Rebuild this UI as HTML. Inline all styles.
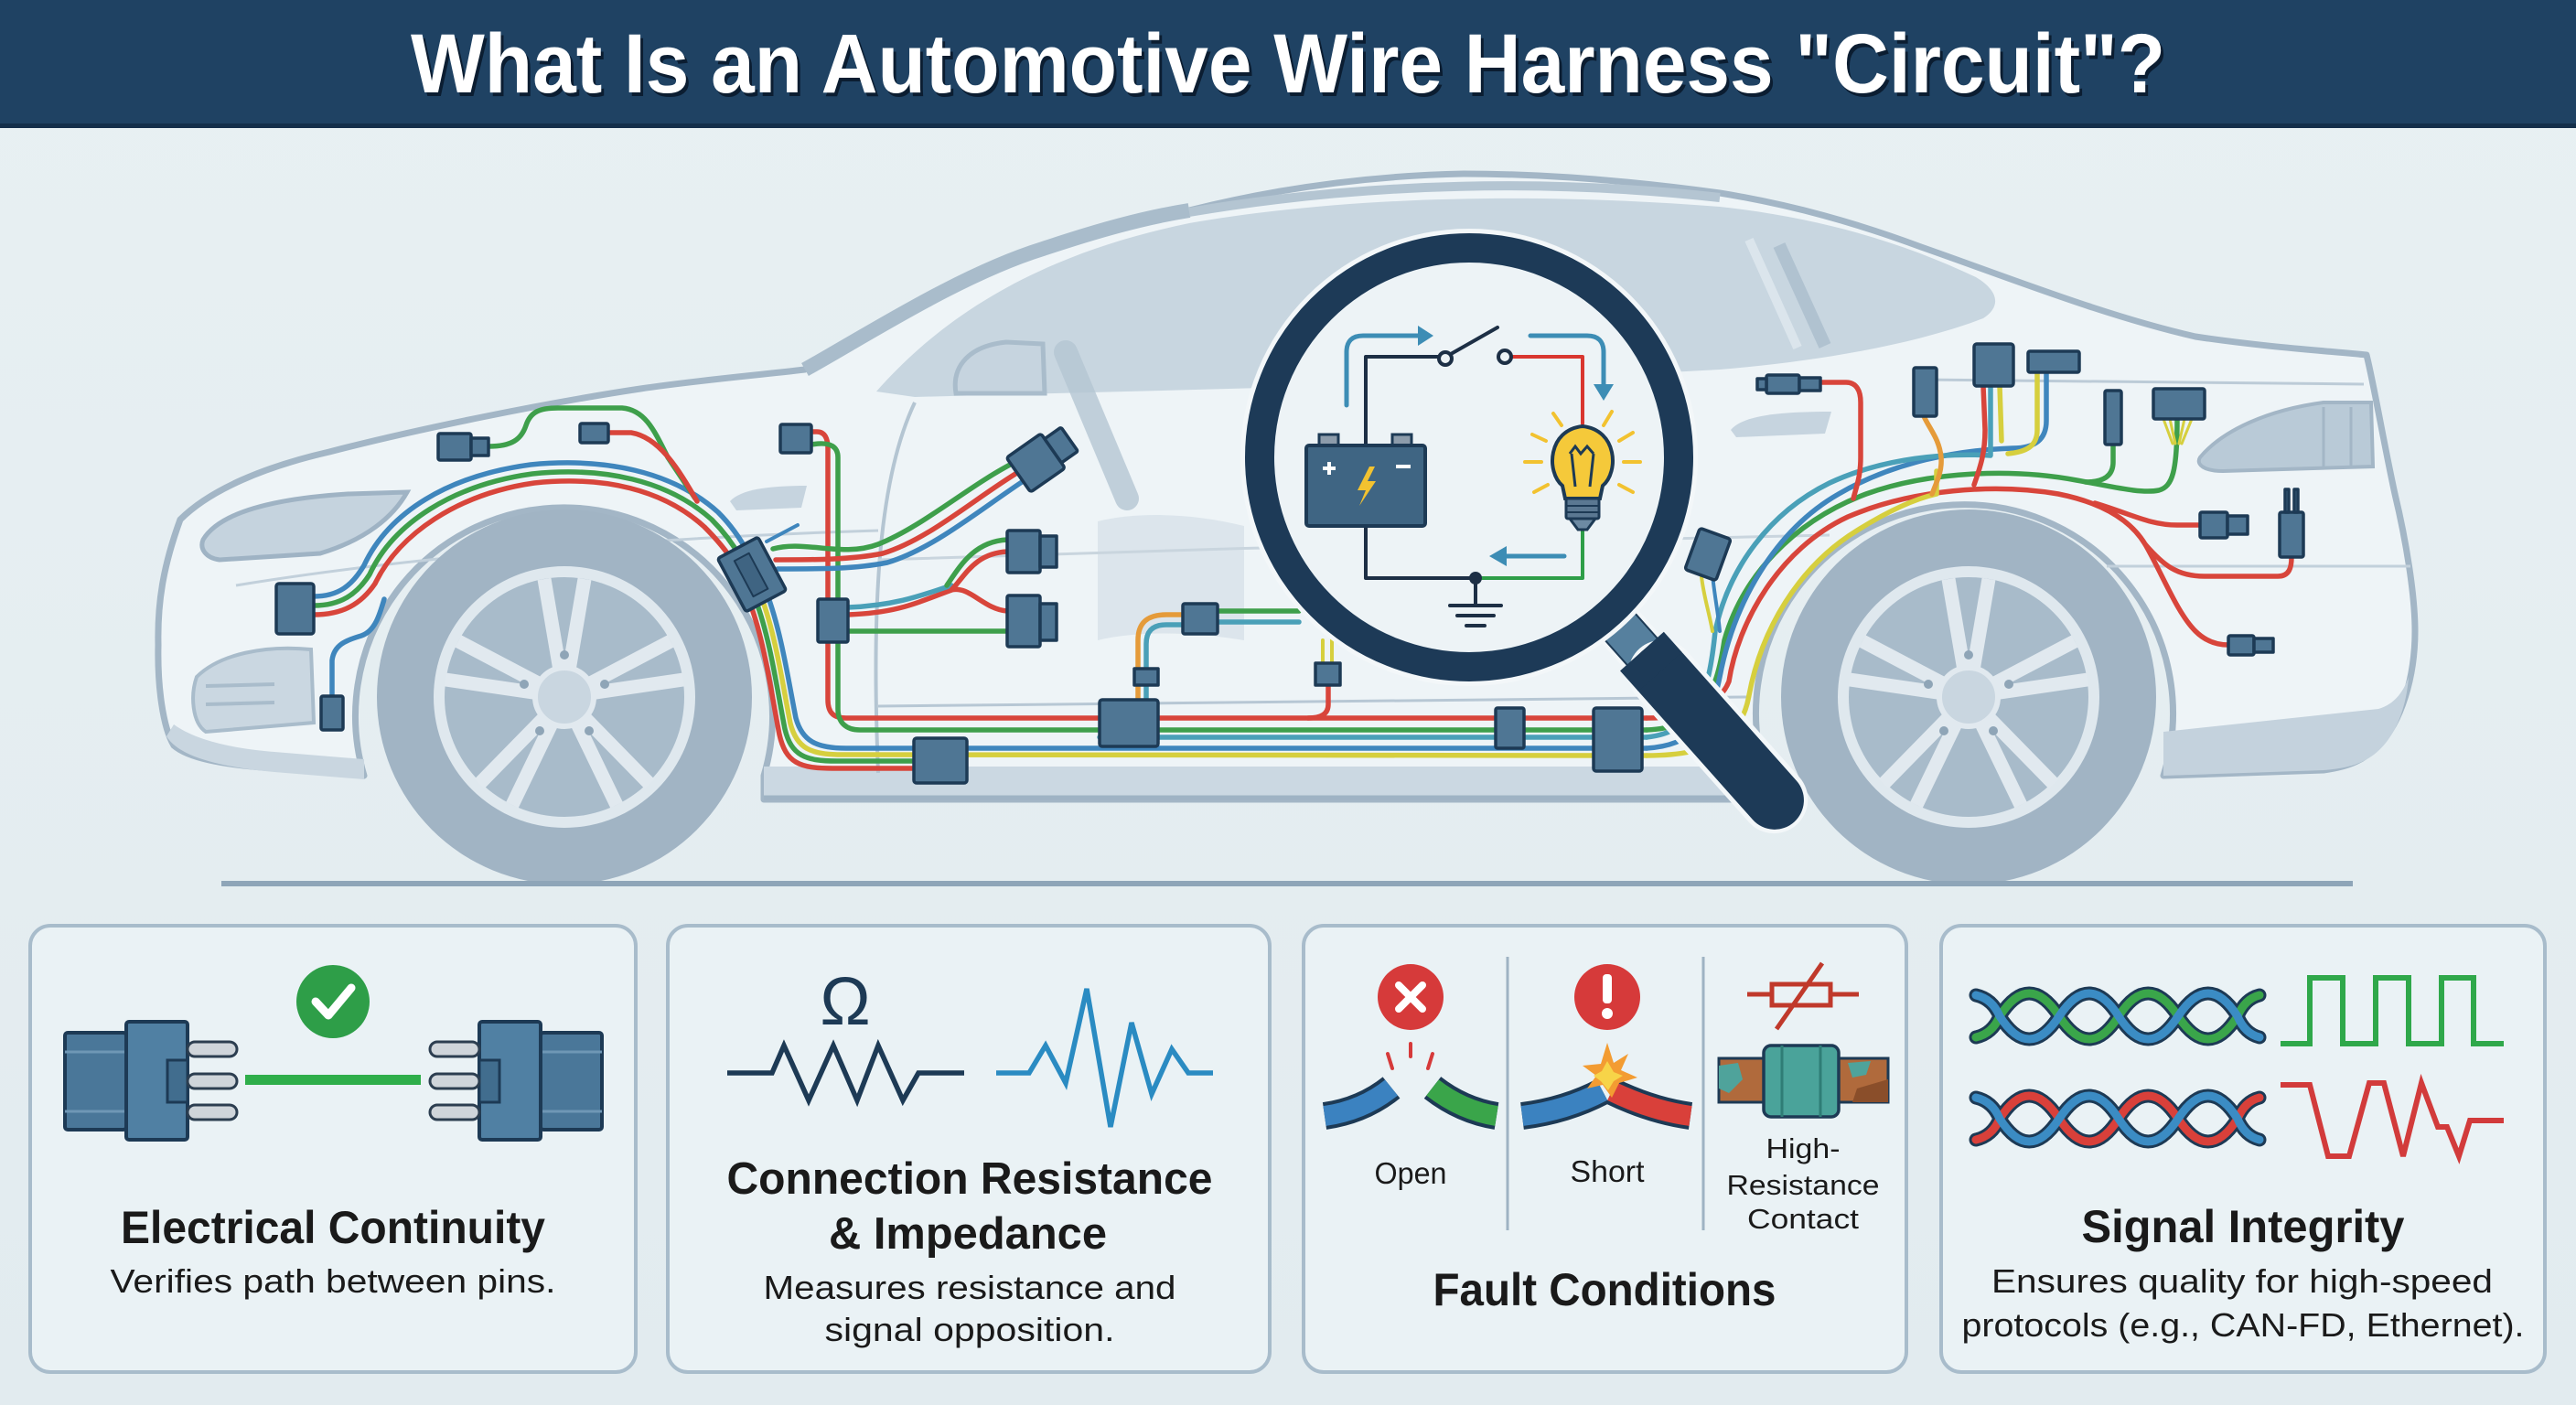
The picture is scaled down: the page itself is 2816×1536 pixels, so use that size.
<!DOCTYPE html>
<html>
<head>
<meta charset="utf-8">
<style>
html,body{margin:0;padding:0;background:#e4edf1;}
svg{display:block;}
text{font-family:"Liberation Sans",Arial,sans-serif;}
</style>
</head>
<body>
<svg width="2816" height="1536" viewBox="0 0 2816 1536" xmlns="http://www.w3.org/2000/svg">
<defs>
<linearGradient id="bg" x1="0" y1="0" x2="0" y2="1">
<stop offset="0" stop-color="#e8f0f3"/><stop offset="1" stop-color="#e2ebef"/>
</linearGradient>
</defs>
<rect x="0" y="0" width="2816" height="1536" fill="url(#bg)"/>

<!-- Title bar -->
<rect x="0" y="0" width="2816" height="140" fill="#1f4263"/>
<rect x="0" y="135" width="2816" height="5" fill="#142f4a"/>
<text x="1411" y="105" text-anchor="middle" font-size="92" font-weight="bold" fill="#0b1d31" textLength="1918" lengthAdjust="spacingAndGlyphs">What Is an Automotive Wire Harness "Circuit"?</text>
<text x="1408" y="101" text-anchor="middle" font-size="92" font-weight="bold" fill="#ffffff" textLength="1918" lengthAdjust="spacingAndGlyphs">What Is an Automotive Wire Harness "Circuit"?</text>

<!-- ===== CAR ===== -->
<g id="car">
<path d="M398,848 L300,840 C240,836 205,828 190,815 C178,795 172,750 173,705 C172,660 178,620 197,568 C230,535 290,510 360,494 C460,468 600,440 700,425 C760,416 830,410 880,404 C950,365 1050,300 1140,272 C1200,252 1250,238 1300,230 C1400,205 1500,192 1600,190 C1700,190 1800,200 1880,211 C1960,224 2030,244 2100,270 C2200,305 2300,345 2400,368 C2480,380 2550,384 2587,388 C2595,420 2605,480 2618,540 C2630,590 2640,650 2640,690 C2640,740 2625,790 2600,815 C2585,830 2570,838 2540,842 L2365,848 A228,228 0 1 0 1930,848 L1930,874 L835,874 L835,848 A228,228 0 1 0 398,848 Z" fill="#eef4f7" stroke="#a3b6c6" stroke-width="7" stroke-linejoin="round"/>
<path d="M835,838 L1930,838 L1930,874 L835,874 Z" fill="#cbd8e2"/>
<path d="M835,872 L1930,872" stroke="#9fb3c4" stroke-width="5"/>
<path d="M960,772 L1910,762" stroke="#b7c7d4" stroke-width="3" fill="none"/>
<path d="M182,805 C195,826 235,838 300,844 L398,852 L398,830 L300,822 C250,818 212,808 190,792 Z" fill="#c9d6e0"/>
<path d="M2365,800 L2600,775 C2618,770 2628,755 2633,740 C2630,780 2615,810 2595,825 C2580,836 2565,840 2540,842 L2365,848 Z" fill="#c4d2dd"/>
<path d="M958,428 C1040,335 1150,275 1300,244 C1450,218 1650,208 1880,226 C1990,238 2080,265 2160,303 C2185,318 2188,335 2168,348 C2100,374 2000,394 1880,404 C1600,420 1300,426 1000,434 Z" fill="#c8d6e0"/>
<path d="M880,404 C950,365 1050,300 1140,272 C1200,252 1250,238 1300,230" stroke="#a9bccb" stroke-width="16" fill="none"/>
<path d="M1300,232 C1500,198 1700,196 1880,216" stroke="#b4c5d2" stroke-width="10" fill="none"/>
<path d="M1912,262 L1965,380" stroke="#dbe5ec" stroke-width="10"/>
<path d="M1945,268 L1995,378" stroke="#b0c2d0" stroke-width="14"/>
<path d="M1045,430 C1040,400 1060,378 1100,374 L1140,376 L1142,430 Z" fill="#c6d4df" stroke="#a9bccb" stroke-width="5"/>
<path d="M1165,385 L1232,545" stroke="#b5c6d3" stroke-width="26" stroke-linecap="round" opacity="0.8"/>
<path d="M1200,570 C1240,560 1300,560 1360,575 L1360,700 C1300,690 1240,690 1200,700 Z" fill="#d7e1e9" opacity="0.8"/>
<path d="M258,640 C500,600 800,585 960,580" stroke="#c2d0db" stroke-width="3" fill="none"/>
<path d="M1000,440 C962,520 952,650 960,845" stroke="#b4c5d2" stroke-width="4" fill="none"/>
<path d="M2099,415 C2300,418 2450,420 2584,420" stroke="#bccbd7" stroke-width="3" fill="none"/>
<path d="M2303,619 L2635,619" stroke="#c2d0db" stroke-width="3" fill="none"/>
<path d="M960,612 C1300,600 1700,590 2000,585" stroke="#c9d5de" stroke-width="3" fill="none"/>
<path d="M798,548 C810,535 840,531 882,531 L876,555 L805,558 Z" fill="#c6d4df"/>
<path d="M1892,470 C1905,455 1940,450 2002,450 L1995,474 L1898,478 Z" fill="#c6d4df"/>
<path d="M222,590 C240,560 300,545 380,540 L445,538 C430,565 400,590 350,605 L240,612 C225,610 218,600 222,590 Z" fill="#c5d3de" stroke="#9fb3c4" stroke-width="5"/>
<path d="M215,740 C240,715 290,705 340,710 L343,790 L225,800 C210,790 208,760 215,740 Z" fill="#cad7e1" stroke="#a9bccb" stroke-width="4"/>
<path d="M225,750 L300,748 M225,770 L300,768" stroke="#a9bccb" stroke-width="4"/>
<path d="M2405,500 C2430,470 2480,448 2540,440 L2592,440 L2594,510 L2430,515 C2410,515 2400,508 2405,500 Z" fill="#b9cad7" stroke="#a3b6c6" stroke-width="4"/>
<path d="M2540,445 L2540,512 M2570,445 L2570,512" stroke="#a3b6c6" stroke-width="3"/>
</g>

<!-- Wheels -->
<g transform="translate(617,762)">
<circle r="205" fill="#a1b4c4"/>
<circle r="143" fill="#dfe8ee"/>
<circle r="131" fill="#a8bbca"/>
<g stroke="#e1e9ef" stroke-width="15">
<line x1="0" y1="0" x2="-22" y2="-129"/><line x1="0" y1="0" x2="22" y2="-129"/>
<line x1="0" y1="0" x2="116" y2="-61"/><line x1="0" y1="0" x2="130" y2="-19"/>
<line x1="0" y1="0" x2="93" y2="95"/><line x1="0" y1="0" x2="57" y2="118"/>
<line x1="0" y1="0" x2="-57" y2="118"/><line x1="0" y1="0" x2="-93" y2="95"/>
<line x1="0" y1="0" x2="-130" y2="-19"/><line x1="0" y1="0" x2="-116" y2="-61"/>
</g>
<circle r="32" fill="#c9d6e0" stroke="#e1e9ef" stroke-width="6"/>
<g fill="#8fa5b7"><circle cx="0" cy="-46" r="5"/><circle cx="44" cy="-14" r="5"/><circle cx="27" cy="37" r="5"/><circle cx="-27" cy="37" r="5"/><circle cx="-44" cy="-14" r="5"/></g>
</g>
<g transform="translate(2152,762)">
<circle r="205" fill="#a1b4c4"/>
<circle r="143" fill="#dfe8ee"/>
<circle r="131" fill="#a8bbca"/>
<g stroke="#e1e9ef" stroke-width="15">
<line x1="0" y1="0" x2="-22" y2="-129"/><line x1="0" y1="0" x2="22" y2="-129"/>
<line x1="0" y1="0" x2="116" y2="-61"/><line x1="0" y1="0" x2="130" y2="-19"/>
<line x1="0" y1="0" x2="93" y2="95"/><line x1="0" y1="0" x2="57" y2="118"/>
<line x1="0" y1="0" x2="-57" y2="118"/><line x1="0" y1="0" x2="-93" y2="95"/>
<line x1="0" y1="0" x2="-130" y2="-19"/><line x1="0" y1="0" x2="-116" y2="-61"/>
</g>
<circle r="32" fill="#c9d6e0" stroke="#e1e9ef" stroke-width="6"/>
<g fill="#8fa5b7"><circle cx="0" cy="-46" r="5"/><circle cx="44" cy="-14" r="5"/><circle cx="27" cy="37" r="5"/><circle cx="-27" cy="37" r="5"/><circle cx="-44" cy="-14" r="5"/></g>
</g>
<line x1="242" y1="966" x2="2572" y2="966" stroke="#8ea5b8" stroke-width="6"/>

<!-- ===== WIRES ===== -->
<g fill="none" stroke-width="5.5" stroke-linecap="round" stroke-linejoin="round">
<path d="M343,652 C370,652 385,640 398,618 C425,560 490,520 580,508 C660,500 735,515 785,560 C800,575 810,590 818,605" stroke="#3f86bd"/>
<path d="M343,662 C372,662 390,650 404,628 C430,572 495,530 582,518 C660,510 730,525 778,568 C792,582 802,596 810,610" stroke="#3e9f4b"/>
<path d="M343,672 C375,672 395,660 410,638 C436,584 500,540 584,528 C660,520 725,535 770,576 C784,590 794,602 802,615" stroke="#d8453b"/>
<path d="M534,488 C560,488 570,480 575,465 C580,450 590,446 610,446 L680,446 C705,448 715,470 730,500 L760,545" stroke="#3e9f4b"/>
<path d="M665,473 L690,473 C720,478 740,510 762,548" stroke="#d8453b"/>
<path d="M363,761 L363,722 C365,705 378,700 395,695 C410,690 415,672 420,655" stroke="#3f86bd"/>
<path d="M838,648 C854,690 862,745 870,785 C877,810 892,818 925,818 L1800,818" stroke="#3f86bd"/>
<path d="M832,652 C848,694 856,751 864,791 C871,818 886,825 920,825 L1800,826" stroke="#d6cf3e"/>
<path d="M826,656 C842,698 850,757 858,797 C865,826 880,832 915,832 L1000,832" stroke="#3e9f4b"/>
<path d="M820,660 C836,702 844,763 852,803 C859,834 874,840 910,840 L1000,840" stroke="#d8453b"/>
<path d="M887,472 L893,472 C902,472 905,480 905,490 L905,765 C905,780 912,785 925,785 L1800,785" stroke="#d8453b"/>
<path d="M887,486 C910,482 916,490 916,500 L916,775 C916,790 925,798 940,798 L1800,798" stroke="#3e9f4b"/>
<path d="M1202,806 L1800,806" stroke="#4aa0b8"/>
<path d="M845,600 C880,590 920,610 960,595 C1010,575 1060,530 1110,505" stroke="#3e9f4b"/>
<path d="M848,612 C890,612 930,612 965,605 C1015,590 1065,545 1115,515" stroke="#d8453b"/>
<path d="M850,622 C900,622 935,622 970,615 C1020,600 1070,558 1120,525" stroke="#3f86bd"/>
<path d="M838,592 L872,574" stroke="#3f86bd" stroke-width="4"/>
<path d="M927,690 L1101,690" stroke="#3e9f4b"/>
<path d="M927,672 C980,670 1000,660 1040,645 C1060,640 1075,666 1101,668" stroke="#d8453b"/>
<path d="M927,664 C980,662 1010,650 1040,640" stroke="#4aa0b8"/>
<path d="M1040,645 C1055,630 1065,605 1101,603" stroke="#d8453b"/>
<path d="M1035,640 C1050,618 1065,592 1101,590" stroke="#3e9f4b"/>
<path d="M1244,765 L1244,700 C1244,680 1255,672 1275,672 L1293,672" stroke="#e59b3a"/>
<path d="M1253,765 L1253,704 C1253,690 1260,683 1275,683 L1293,683" stroke="#4aa0b8"/>
<path d="M1331,668 L1420,668" stroke="#3e9f4b"/>
<path d="M1331,680 L1420,680" stroke="#4aa0b8"/>
<path d="M1452,749 L1452,770 C1452,780 1445,785 1430,785" stroke="#d8453b"/>
<path d="M1446,700 L1446,725 M1456,700 L1456,725" stroke="#d6cf3e" stroke-width="4"/>
<path d="M1800,785 C1850,785 1880,770 1890,745 C1900,680 1945,600 2020,565 C2090,535 2180,528 2250,540 C2300,550 2330,570 2345,595 C2365,630 2380,670 2400,690 C2412,702 2425,705 2436,705" stroke="#d8453b"/>
<path d="M1800,798 C1860,796 1876,760 1885,700 C1905,630 1960,570 2040,540 C2110,515 2200,512 2270,525 C2310,532 2340,540 2360,536 C2375,532 2380,515 2380,458" stroke="#3e9f4b"/>
<path d="M1800,818 C1850,815 1870,790 1880,740 C1895,660 1940,580 2010,540 C2070,505 2140,492 2200,490 C2225,490 2237,480 2237,460 L2237,407" stroke="#3f86bd"/>
<path d="M1800,826 C1880,826 1905,800 1912,760 C1925,690 1965,620 2030,580 C2065,558 2095,545 2117,540 L2117,515" stroke="#d6cf3e"/>
<path d="M1800,806 C1855,800 1868,760 1875,690 C1890,620 1935,560 2000,528 C2060,500 2130,495 2176,498 L2176,422" stroke="#4aa0b8"/>
<path d="M2227,407 L2227,470 C2227,488 2215,494 2195,496" stroke="#d6cf3e"/>
<path d="M2290,550 C2330,562 2350,574 2380,574 L2405,574" stroke="#d8453b"/>
<path d="M2345,595 C2365,618 2380,630 2410,630 L2490,630 C2503,630 2505,620 2505,609" stroke="#d8453b"/>
<path d="M2310,486 L2310,505 C2310,520 2300,527 2280,527" stroke="#3e9f4b"/>
<path d="M1990,418 L2018,418 C2030,418 2034,428 2034,440 L2034,500 C2034,520 2030,530 2026,545" stroke="#d8453b"/>
<path d="M2103,455 C2110,470 2120,480 2122,500 C2123,515 2118,525 2112,540" stroke="#e59b3a"/>
<path d="M2168,422 L2170,470 C2170,495 2165,510 2158,530" stroke="#d8453b"/>
<path d="M2186,422 L2188,482" stroke="#d6cf3e"/>
<path d="M2365,458 L2375,485 M2372,458 L2378,485 M2388,458 L2382,485 M2396,458 L2385,485" stroke="#d6cf3e" stroke-width="3"/>
<path d="M1860,630 C1862,650 1868,668 1872,690" stroke="#d6cf3e" stroke-width="4"/>
<path d="M1872,628 C1874,650 1878,668 1880,690" stroke="#3f86bd" stroke-width="4"/>
</g>

<!-- connectors -->
<g fill="#4f7694" stroke="#1d3a55" stroke-width="3.5" stroke-linejoin="round">
<rect x="302" y="638" width="41" height="55" rx="3"/>
<rect x="479" y="474" width="36" height="29" rx="2"/><rect x="515" y="479" width="19" height="19"/>
<rect x="634" y="463" width="31" height="21" rx="2"/>
<rect x="351" y="761" width="24" height="37" rx="2"/>
<g transform="translate(822,628) rotate(-28)"><rect x="-25" y="-33" width="50" height="66" rx="3"/><rect x="-10" y="-22" width="18" height="44" fill="#3f6482" stroke-width="2"/></g>
<rect x="853" y="464" width="34" height="31" rx="2"/>
<rect x="894" y="655" width="33" height="47" rx="2"/>
<rect x="1101" y="580" width="36" height="46" rx="2"/><rect x="1137" y="586" width="18" height="34"/>
<rect x="1101" y="651" width="36" height="56" rx="2"/><rect x="1137" y="660" width="18" height="40"/>
<g transform="translate(1138,502) rotate(-35)"><rect x="-30" y="-23" width="46" height="46" rx="3"/><rect x="16" y="-16" width="22" height="32" rx="2"/></g>
<rect x="999" y="807" width="58" height="49" rx="3"/>
<rect x="1202" y="765" width="64" height="51" rx="3"/>
<rect x="1240" y="731" width="26" height="18"/>
<rect x="1293" y="660" width="38" height="33" rx="2"/>
<rect x="1438" y="725" width="27" height="24"/>
<rect x="1635" y="774" width="31" height="44" rx="2"/>
<rect x="1742" y="774" width="53" height="69" rx="3"/>
<rect x="1931" y="410" width="36" height="20" rx="2"/><rect x="1967" y="413" width="23" height="14"/><rect x="1921" y="414" width="10" height="12"/>
<rect x="2092" y="402" width="25" height="53" rx="2"/>
<rect x="2158" y="376" width="43" height="46" rx="3"/>
<rect x="2217" y="384" width="56" height="23" rx="2"/>
<rect x="2301" y="427" width="18" height="59" rx="2"/>
<rect x="2354" y="425" width="56" height="33" rx="2"/>
<rect x="2405" y="560" width="30" height="28" rx="2"/><rect x="2435" y="564" width="22" height="20"/>
<rect x="2492" y="560" width="26" height="49" rx="2"/><rect x="2498" y="535" width="4" height="25"/><rect x="2508" y="535" width="4" height="25"/>
<rect x="2436" y="695" width="28" height="21" rx="2"/><rect x="2464" y="698" width="21" height="15"/>
<g transform="translate(1867,606) rotate(20)"><rect x="-18" y="-24" width="36" height="48" rx="3"/></g>
</g>

<!-- ===== MAGNIFIER ===== -->
<g transform="translate(1606,500) rotate(48.3)">
<rect x="236" y="-27" width="60" height="54" fill="#f3f7f9"/>
<rect x="238" y="-22" width="52" height="44" fill="#56809e" stroke="#1d3a55" stroke-width="2"/>
<rect x="280" y="-37" width="258" height="74" rx="37" fill="#f3f7f9"/>
<rect x="284" y="-32" width="250" height="64" rx="32" fill="#1d3a57"/>
<rect x="284" y="-32" width="30" height="64" fill="#1d3a57"/>
</g>
<circle cx="1606" cy="500" r="250" fill="#f3f7f9"/>
<circle cx="1606" cy="500" r="215" fill="#edf3f6"/>
<circle cx="1606" cy="500" r="229" fill="none" stroke="#1d3a57" stroke-width="32"/>

<!-- circuit -->
<g fill="none" stroke-linecap="round" stroke-linejoin="round">
<path d="M1472,443 V385 Q1472,367 1490,367 H1552" stroke="#3d8db5" stroke-width="5"/>
<path d="M1673,367 H1735 Q1753,367 1753,385 V420" stroke="#3d8db5" stroke-width="5"/>
<path d="M1710,608 H1645" stroke="#3d8db5" stroke-width="5"/>
<path d="M1493,487 V390 H1573" stroke="#1d2f45" stroke-width="4"/>
<path d="M1586,387 L1637,358" stroke="#1d2f45" stroke-width="4"/>
<path d="M1652,390 H1730 V463" stroke="#d9362f" stroke-width="4"/>
<path d="M1730,578 V632 H1620" stroke="#2e9e48" stroke-width="4"/>
<path d="M1613,632 H1493 V575" stroke="#1d2f45" stroke-width="4"/>
<path d="M1613,632 V662 M1585,662 H1641 M1593,673 H1633 M1603,684 H1623" stroke="#1d2f45" stroke-width="4"/>
<g stroke="#f2c230" stroke-width="4">
<path d="M1698,452 L1707,465 M1762,450 L1753,465 M1675,475 L1690,482 M1785,473 L1770,482 M1667,505 L1685,505 M1775,505 L1793,505 M1677,538 L1692,530 M1770,530 L1785,538"/>
</g>
</g>
<g fill="#3d8db5">
<polygon points="1550,356 1567,367 1550,378"/>
<polygon points="1742,420 1753,438 1764,420"/>
<polygon points="1647,597 1628,608 1647,619"/>
</g>
<circle cx="1580" cy="392" r="7" fill="#edf3f6" stroke="#1d2f45" stroke-width="4"/>
<circle cx="1645" cy="390" r="7" fill="#edf3f6" stroke="#1d2f45" stroke-width="4"/>
<circle cx="1613" cy="632" r="7" fill="#1d2f45"/>
<rect x="1442" y="475" width="21" height="13" fill="#8d9cab" stroke="#1d3a55" stroke-width="3"/>
<rect x="1522" y="475" width="21" height="13" fill="#8d9cab" stroke="#1d3a55" stroke-width="3"/>
<rect x="1428" y="487" width="130" height="88" rx="3" fill="#3f6583" stroke="#1d3a55" stroke-width="4"/>
<path d="M1446,512 H1460 M1453,505 V519 M1526,510 H1542" stroke="#ffffff" stroke-width="4" fill="none"/>
<polygon points="1497,510 1484,536 1493,536 1486,553 1504,526 1495,526 1503,510" fill="#f2c230"/>
<path d="M1708,531 C1690,516 1692,470 1730,466 C1768,470 1770,516 1752,531 L1749,545 H1711 Z" fill="#f5c93a" stroke="#1d3a55" stroke-width="4"/>
<path d="M1716,496 L1722,488 L1728,496 L1735,488 L1742,496 M1718,496 L1722,532 M1742,496 L1738,532" stroke="#1d3a55" stroke-width="3" fill="none"/>
<rect x="1712" y="545" width="36" height="22" rx="2" fill="#5b7892" stroke="#1d3a55" stroke-width="3"/>
<path d="M1712,553 H1748 M1712,560 H1748" stroke="#1d3a55" stroke-width="2"/>
<polygon points="1716,567 1744,567 1735,579 1725,579" fill="#6d8aa3" stroke="#1d3a55" stroke-width="3"/>

<!-- ===== CARDS ===== -->
<g fill="#eaf2f5" stroke="#a8bccb" stroke-width="4">
<rect x="33" y="1012" width="662" height="488" rx="22"/>
<rect x="730" y="1012" width="658" height="488" rx="22"/>
<rect x="1425" y="1012" width="659" height="488" rx="22"/>
<rect x="2122" y="1012" width="660" height="488" rx="22"/>
</g>

<!-- Card 1 -->
<circle cx="364" cy="1095" r="40" fill="#2e9e48"/>
<path d="M345,1095 L359,1110 L384,1080" stroke="#ffffff" stroke-width="9" fill="none" stroke-linecap="round" stroke-linejoin="round"/>
<g id="conn1">
<rect x="71" y="1129" width="67" height="106" rx="3" fill="#4a7799" stroke="#1d3a55" stroke-width="4"/>
<path d="M71,1150 H138 M71,1215 H138" stroke="#6f97b5" stroke-width="3"/>
<rect x="138" y="1117" width="67" height="129" rx="3" fill="#5080a3" stroke="#1d3a55" stroke-width="4"/>
<rect x="183" y="1159" width="22" height="46" fill="#416d8e" stroke="#1d3a55" stroke-width="3"/>
<rect x="205" y="1139" width="54" height="16" rx="8" fill="#cfd5da" stroke="#2c3e50" stroke-width="3"/>
<rect x="205" y="1174" width="54" height="16" rx="8" fill="#cfd5da" stroke="#2c3e50" stroke-width="3"/>
<rect x="205" y="1208" width="54" height="16" rx="8" fill="#cfd5da" stroke="#2c3e50" stroke-width="3"/>
</g>
<use href="#conn1" transform="translate(729,0) scale(-1,1)"/>
<rect x="268" y="1175" width="192" height="11" fill="#2fae4a"/>
<text x="364" y="1359" text-anchor="middle" font-size="50" font-weight="bold" fill="#1a1a1a" textLength="464" lengthAdjust="spacingAndGlyphs">Electrical Continuity</text>
<text x="364" y="1413" text-anchor="middle" font-size="36" fill="#1a1a1a" textLength="487" lengthAdjust="spacingAndGlyphs">Verifies path between pins.</text>

<!-- Card 2 -->
<text x="924" y="1120" text-anchor="middle" font-size="74" fill="#1d3a55">Ω</text>
<path d="M795,1173 H844 L857,1143 L884,1203 L911,1143 L937,1203 L960,1143 L987,1203 L1004,1173 H1054" stroke="#1d3a55" stroke-width="5.5" fill="none"/>
<path d="M1089,1173 H1125 L1143,1143 L1165,1184 L1188,1081 L1214,1232 L1237,1118 L1259,1196 L1281,1147 L1299,1173 H1326" stroke="#2a8bc2" stroke-width="5.5" fill="none"/>
<text x="1060" y="1305" text-anchor="middle" font-size="49" font-weight="bold" fill="#1a1a1a" textLength="531" lengthAdjust="spacingAndGlyphs">Connection Resistance</text>
<text x="1058" y="1365" text-anchor="middle" font-size="49" font-weight="bold" fill="#1a1a1a" textLength="304" lengthAdjust="spacingAndGlyphs">&amp; Impedance</text>
<text x="1060" y="1420" text-anchor="middle" font-size="36" fill="#1a1a1a" textLength="451" lengthAdjust="spacingAndGlyphs">Measures resistance and</text>
<text x="1060" y="1466" text-anchor="middle" font-size="36" fill="#1a1a1a" textLength="317" lengthAdjust="spacingAndGlyphs">signal opposition.</text>

<!-- Card 3 -->
<path d="M1648,1046 V1345 M1862,1046 V1345" stroke="#9fb3c3" stroke-width="3"/>
<circle cx="1542" cy="1090" r="36" fill="#d63a3a"/>
<path d="M1529,1077 L1555,1103 M1555,1077 L1529,1103" stroke="#ffffff" stroke-width="8" stroke-linecap="round"/>
<circle cx="1757" cy="1090" r="36" fill="#d63a3a"/>
<rect x="1752" y="1065" width="10" height="32" rx="4" fill="#ffffff"/>
<circle cx="1757" cy="1108" r="6" fill="#ffffff"/>
<path d="M1910,1087 H1937 M2001,1087 H2032" stroke="#c0392b" stroke-width="5"/>
<rect x="1937" y="1076" width="64" height="23" fill="none" stroke="#c0392b" stroke-width="5"/>
<path d="M1942,1125 L1992,1053" stroke="#c0392b" stroke-width="5"/>
<path d="M1448,1220 Q1490,1214 1521,1189" stroke="#1d3a55" stroke-width="30" fill="none"/>
<path d="M1448,1220 Q1490,1214 1521,1189" stroke="#3b82c0" stroke-width="22" fill="none"/>
<path d="M1566,1189 Q1598,1214 1636,1220" stroke="#1d3a55" stroke-width="30" fill="none"/>
<path d="M1566,1189 Q1598,1214 1636,1220" stroke="#3aa54a" stroke-width="22" fill="none"/>
<path d="M1517,1152 L1522,1168 M1542,1141 L1542,1155 M1566,1152 L1561,1168" stroke="#d63a3a" stroke-width="4" stroke-linecap="round"/>
<path d="M1664,1220 Q1712,1214 1752,1193" stroke="#1d3a55" stroke-width="30" fill="none"/>
<path d="M1664,1220 Q1712,1214 1752,1193" stroke="#3b82c0" stroke-width="22" fill="none"/>
<path d="M1762,1193 Q1805,1214 1848,1220" stroke="#1d3a55" stroke-width="30" fill="none"/>
<path d="M1762,1193 Q1805,1214 1848,1220" stroke="#d9403a" stroke-width="22" fill="none"/>
<polygon points="1757,1140 1764,1162 1780,1152 1772,1170 1790,1178 1770,1184 1762,1200 1752,1186 1735,1190 1745,1176 1730,1165 1750,1163" fill="#f39c32"/>
<polygon points="1757,1160 1764,1172 1774,1176 1764,1182 1758,1192 1750,1182 1742,1176 1751,1171" fill="#f7d448"/>
<rect x="1879" y="1157" width="185" height="48" fill="#b06a3c" stroke="#1d3a55" stroke-width="3"/>
<path d="M1879,1165 L1900,1162 L1905,1180 L1890,1195 L1879,1190 Z" fill="#4fa39b"/>
<path d="M2020,1162 L2045,1160 L2040,1175 L2025,1178 Z" fill="#4fa39b"/>
<path d="M2030,1190 L2064,1180 L2064,1205 L2025,1205 Z" fill="#8a4e2a"/>
<rect x="1928" y="1143" width="82" height="78" rx="8" fill="#4aa39a" stroke="#1d3a55" stroke-width="3.5"/>
<path d="M1948,1143 V1221 M1990,1143 V1221" stroke="#2f7d76" stroke-width="3"/>
<text x="1542" y="1294" text-anchor="middle" font-size="33" fill="#1a1a1a" textLength="79" lengthAdjust="spacingAndGlyphs">Open</text>
<text x="1757" y="1292" text-anchor="middle" font-size="33" fill="#1a1a1a" textLength="81" lengthAdjust="spacingAndGlyphs">Short</text>
<text x="1971" y="1266" text-anchor="middle" font-size="31" fill="#1a1a1a" textLength="81" lengthAdjust="spacingAndGlyphs">High-</text>
<text x="1971" y="1306" text-anchor="middle" font-size="31" fill="#1a1a1a" textLength="167" lengthAdjust="spacingAndGlyphs">Resistance</text>
<text x="1971" y="1343" text-anchor="middle" font-size="31" fill="#1a1a1a" textLength="122" lengthAdjust="spacingAndGlyphs">Contact</text>
<text x="1754" y="1427" text-anchor="middle" font-size="50" font-weight="bold" fill="#1a1a1a" textLength="375" lengthAdjust="spacingAndGlyphs">Fault Conditions</text>

<!-- Card 4 -->
<g fill="none" stroke-linecap="round">
<g stroke="#1d3a55" stroke-width="15">
<path d="M2160,1134 Q2178,1130 2186,1111 Q2218,1061 2251,1111 T2316,1111 T2381,1111 T2446,1111 Q2454,1092 2470,1088"/>
<path d="M2160,1088 Q2178,1092 2186,1111 Q2218,1161 2251,1111 T2316,1111 T2381,1111 T2446,1111 Q2454,1130 2470,1134"/>
<path d="M2160,1246 Q2178,1242 2186,1223 Q2218,1173 2251,1223 T2316,1223 T2381,1223 T2446,1223 Q2454,1204 2470,1200"/>
<path d="M2160,1200 Q2178,1204 2186,1223 Q2218,1273 2251,1223 T2316,1223 T2381,1223 T2446,1223 Q2454,1242 2470,1246"/>
</g>
<g stroke-width="9">
<path d="M2160,1134 Q2178,1130 2186,1111 Q2218,1061 2251,1111 T2316,1111 T2381,1111 T2446,1111 Q2454,1092 2470,1088" stroke="#3aa54a"/>
<path d="M2160,1088 Q2178,1092 2186,1111 Q2218,1161 2251,1111 T2316,1111 T2381,1111 T2446,1111 Q2454,1130 2470,1134" stroke="#3b8cc4"/>
<path d="M2160,1246 Q2178,1242 2186,1223 Q2218,1173 2251,1223 T2316,1223 T2381,1223 T2446,1223 Q2454,1204 2470,1200" stroke="#d9403a"/>
<path d="M2160,1200 Q2178,1204 2186,1223 Q2218,1273 2251,1223 T2316,1223 T2381,1223 T2446,1223 Q2454,1242 2470,1246" stroke="#3b8cc4"/>
</g>
<path d="M2493,1141 H2525 V1069 H2561 V1141 H2597 V1069 H2633 V1141 H2669 V1069 H2704 V1141 H2737" stroke="#2fa84a" stroke-width="6" stroke-linecap="butt"/>
<path d="M2493,1186 H2525 L2545,1264 H2568 L2590,1184 H2606 L2627,1264 L2647,1184 L2665,1232 H2675 L2688,1264 L2700,1225 H2737" stroke="#d23b3b" stroke-width="6" stroke-linecap="butt" stroke-linejoin="miter"/>
</g>
<text x="2452" y="1358" text-anchor="middle" font-size="50" font-weight="bold" fill="#1a1a1a" textLength="353" lengthAdjust="spacingAndGlyphs">Signal Integrity</text>
<text x="2451" y="1413" text-anchor="middle" font-size="36" fill="#1a1a1a" textLength="548" lengthAdjust="spacingAndGlyphs">Ensures quality for high-speed</text>
<text x="2452" y="1461" text-anchor="middle" font-size="36" fill="#1a1a1a" textLength="615" lengthAdjust="spacingAndGlyphs">protocols (e.g., CAN-FD, Ethernet).</text>
</svg>
</body>
</html>
